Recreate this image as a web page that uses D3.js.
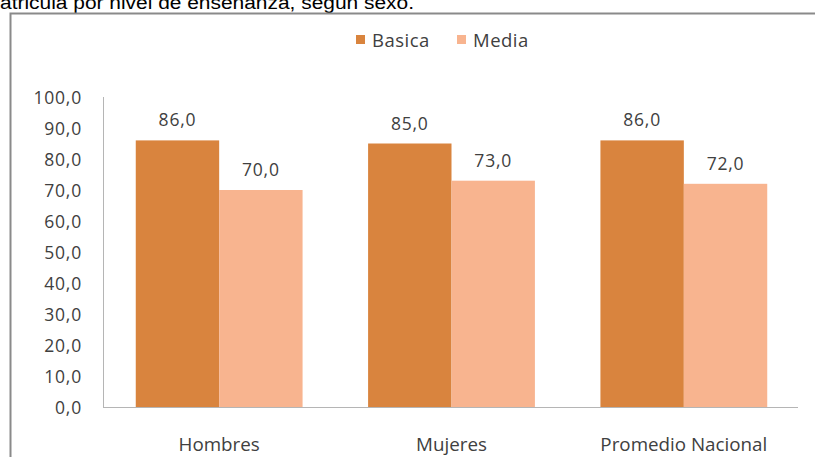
<!DOCTYPE html>
<html>
<head>
<meta charset="utf-8">
<script src="https://cdn.jsdelivr.net/npm/d3@7/dist/d3.min.js"></script>
<style>
html,body{margin:0;padding:0;background:#fff;overflow:hidden;}
svg{display:block;}
</style>
</head>
<body>
<svg id="chart" width="815" height="457"></svg>
<script>
const titleText = "atricula por nivel de enseñanza, según sexo.";
const categories = ["Hombres", "Mujeres", "Promedio Nacional"];
const seriesNames = ["Basica", "Media"];
const basica = [86.0, 85.0, 86.0];
const media = [70.0, 73.0, 72.0];
const yTicks = [0, 10, 20, 30, 40, 50, 60, 70, 80, 90, 100];
const colors = ["#D9843E", "#F8B48F"];

const seriesValues = [basica, media];
const fmt = v => v.toFixed(1).replace(".", ",");

const svg = d3.select("#chart");
const W = 815, H = 457;
const m = {left: 103, top: 97};
const plotR = 800, plotB = 407;

// title (cut at the top edge like the source)
svg.append("text")
  .attr("x", 0).attr("y", 9)
  .attr("font-family", "'Liberation Sans Narrow', 'Liberation Sans', Arial, sans-serif")
  .attr("font-size", 18)
  .attr("textLength", 414)
  .attr("lengthAdjust", "spacingAndGlyphs")
  .attr("fill", "#000")
  .text(titleText);

// frame
svg.append("path")
  .attr("d", `M10.5,${H} V13.5 H${W}`)
  .attr("fill", "none")
  .attr("stroke", "#8a8a8a")
  .attr("stroke-width", 2);

const x0 = d3.scaleBand().domain(categories).range([m.left, plotR])
  .paddingInner(0.282).paddingOuter(0.141);
const x1 = d3.scaleBand().domain(seriesNames).range([0, x0.bandwidth()]);
const y = d3.scaleLinear().domain([0, 100]).range([plotB, m.top]);

const font = "'Open Sans', 'Noto Sans', sans-serif";
const textCol = "#404040";

// y tick labels
const yAxis = d3.axisLeft(y).tickValues(yTicks).tickFormat(fmt).tickSize(0).tickPadding(21);
const yg = svg.append("g").attr("transform", `translate(${m.left},0)`).call(yAxis);
yg.select(".domain").remove();
yg.selectAll("text")
  .attr("font-family", font).attr("font-size", 17.5)
  .attr("letter-spacing", 0.8)
  .attr("fill", textCol)
  .attr("dy", "0.36em");

// bars
const groups = svg.append("g").selectAll("g").data(categories).join("g")
  .attr("transform", d => `translate(${x0(d)},0)`);
seriesNames.forEach((s, si) => {
  groups.append("rect")
    .attr("x", x1(s))
    .attr("y", (d, i) => y(seriesValues[si][i]))
    .attr("width", x1.bandwidth())
    .attr("height", (d, i) => plotB - y(seriesValues[si][i]))
    .attr("fill", colors[si]);
  groups.append("text")
    .attr("x", x1(s) + x1.bandwidth() / 2)
    .attr("y", (d, i) => y(seriesValues[si][i]) - 14)
    .attr("text-anchor", "middle")
    .attr("font-family", font).attr("font-size", 17.5)
    .attr("letter-spacing", 0.8)
    .attr("fill", textCol)
    .text((d, i) => fmt(seriesValues[si][i]));
});

// axis lines
svg.append("line").attr("x1", m.left + 0.5).attr("x2", m.left + 0.5)
  .attr("y1", m.top).attr("y2", plotB)
  .attr("stroke", "#b5b5b5").attr("stroke-width", 1);
svg.append("line").attr("x1", m.left).attr("x2", plotR - 2)
  .attr("y1", plotB + 0.5).attr("y2", plotB + 0.5)
  .attr("stroke", "#b5b5b5").attr("stroke-width", 1);

// x labels
const xAxis = d3.axisBottom(x0).tickSize(0).tickPadding(0);
const xg = svg.append("g").attr("transform", `translate(0,${plotB})`).call(xAxis);
xg.select(".domain").remove();
xg.selectAll("text")
  .attr("font-family", font).attr("font-size", 18.8)
  .attr("fill", textCol)
  .attr("dy", 0).attr("y", 44);

// legend
const legend = svg.append("g");
const legItems = [{name: seriesNames[0], x: 356, c: colors[0]}, {name: seriesNames[1], x: 457, c: colors[1]}];
legItems.forEach(it => {
  legend.append("rect").attr("x", it.x).attr("y", 35).attr("width", 9).attr("height", 9).attr("fill", it.c);
  legend.append("text").attr("x", it.x + 16).attr("y", 47)
    .attr("font-family", font).attr("font-size", 18.5)
    .attr("letter-spacing", 0.5)
    .attr("fill", textCol).text(it.name);
});
</script>
</body>
</html>
